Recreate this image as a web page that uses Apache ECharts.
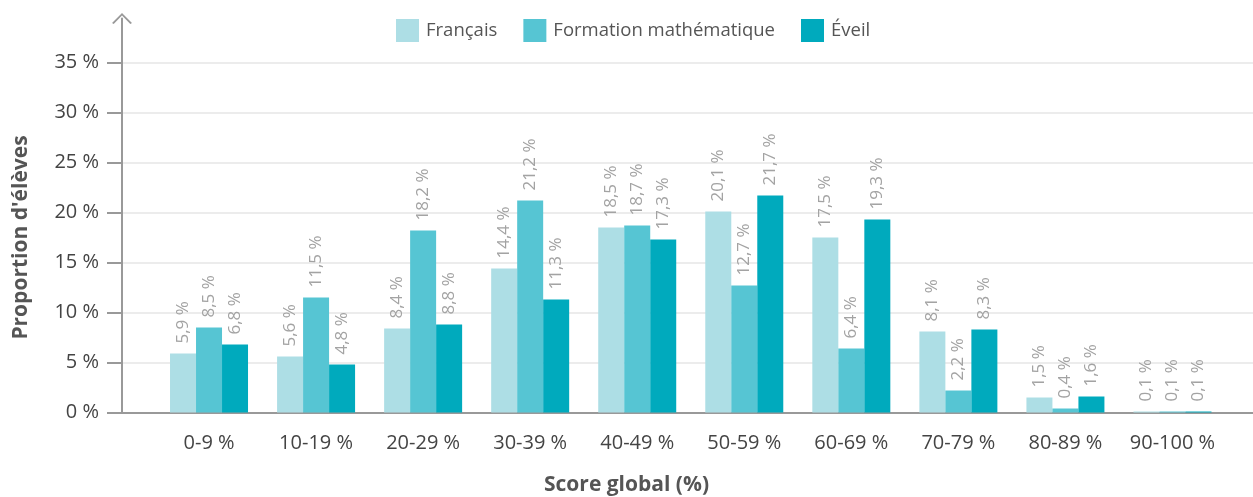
<!DOCTYPE html>
<html>
<head>
<meta charset="utf-8">
<script src="https://cdn.jsdelivr.net/npm/echarts@6/dist/echarts.min.js"></script>
<style>
html,body{margin:0;padding:0;background:#fff;}
#chart{width:1253px;height:497px;}
</style>
</head>
<body>
<div id="chart"></div>
<script>
const categories = ['0-9 %','10-19 %','20-29 %','30-39 %','40-49 %','50-59 %','60-69 %','70-79 %','80-89 %','90-100 %'];
const seriesNames = ['Français','Formation mathématique','Éveil'];
const francais = [5.9, 5.6, 8.4, 14.4, 18.5, 20.1, 17.5, 8.1, 1.5, 0.1];
const formationMath = [8.5, 11.5, 18.2, 21.2, 18.7, 12.7, 6.4, 2.2, 0.4, 0.1];
const eveil = [6.8, 4.8, 8.8, 11.3, 17.3, 21.7, 19.3, 8.3, 1.6, 0.1];
const yTicks = {min: 0, max: 35, interval: 5};

const FONT = '"Open Sans", sans-serif';
const colors = ['#addee5', '#56c5d3', '#00aabd'];
const chevron = 'path://M0,10 L10,0 L20,10 L18.3,11 L10,2.6 L1.7,11 Z';

const barLabel = {
  show: true,
  position: 'top',
  rotate: 90,
  align: 'left',
  verticalAlign: 'middle',
  distance: 10,
  color: '#a3a3a3',
  fontFamily: FONT,
  fontSize: 17,
  formatter: p => p.value.toFixed(1).replace('.', ',') + ' %'
};

function bar(name, data, color) {
  return {
    name, type: 'bar', data,
    xAxisIndex: 0, yAxisIndex: 0,
    barWidth: 26, barGap: '0%',
    itemStyle: {color},
    label: barLabel,
    z: 3
  };
}

const chart = echarts.init(document.getElementById('chart'));
chart.setOption({
  animation: false,
  color: colors,
  textStyle: {fontFamily: FONT},
  title: {
    text: 'Score global (%)',
    left: 'center',
    top: 470,
    textStyle: {fontFamily: FONT, fontSize: 21, fontWeight: 'bold', color: '#555'}
  },
  legend: {
    data: seriesNames,
    left: 396,
    top: 19,
    padding: 0,
    itemWidth: 23,
    itemHeight: 23,
    itemGap: 26,
    icon: 'rect',
    textStyle: {fontFamily: FONT, fontSize: 18.5, color: '#555', padding: [0, 0, 0, 2]}
  },
  grid: [
    {left: 155.5, right: 27, top: 62.5, bottom: 84.5},
    {left: 122, right: 0, top: 62.5, bottom: 84.5},
    {left: 122, right: 0, top: 18.5, bottom: 84.5}
  ],
  xAxis: [
    {
      type: 'category', data: categories, gridIndex: 0,
      axisLine: {show: false}, axisTick: {show: false},
      axisLabel: {interval: 0, color: '#444', fontFamily: FONT, fontSize: 20, margin: 21}
    },
    {type: 'value', gridIndex: 1, show: false, min: 0, max: 1},
    {
      type: 'value', gridIndex: 2, min: 0, max: 1,
      axisLine: {show: true, lineStyle: {color: '#999', width: 2}},
      axisTick: {show: false}, axisLabel: {show: false}, splitLine: {show: false}
    }
  ],
  yAxis: [
    {type: 'value', gridIndex: 0, min: yTicks.min, max: yTicks.max, interval: yTicks.interval, show: false},
    {
      type: 'value', gridIndex: 1, min: yTicks.min, max: yTicks.max, interval: yTicks.interval,
      name: "Proportion d'élèves",
      nameLocation: 'middle', nameGap: 90, nameRotate: 90,
      nameTextStyle: {fontFamily: FONT, fontSize: 21, fontWeight: 'bold', color: '#555'},
      axisLine: {show: false},
      axisTick: {show: true, length: 15, lineStyle: {color: '#999', width: 2}},
      axisLabel: {color: '#444', fontFamily: FONT, fontSize: 20, margin: 23, formatter: '{value} %'},
      splitLine: {show: true, lineStyle: {color: '#ececec', width: 2}}
    },
    {
      type: 'value', gridIndex: 2, min: 0, max: 1,
      axisLine: {show: true, symbol: ['none', chevron], symbolSize: [20, 11], lineStyle: {color: '#999', width: 2}},
      axisTick: {show: false}, axisLabel: {show: false}, splitLine: {show: false}
    }
  ],
  series: [
    bar(seriesNames[0], francais, colors[0]),
    bar(seriesNames[1], formationMath, colors[1]),
    bar(seriesNames[2], eveil, colors[2])
  ]
});
</script>
</body>
</html>
